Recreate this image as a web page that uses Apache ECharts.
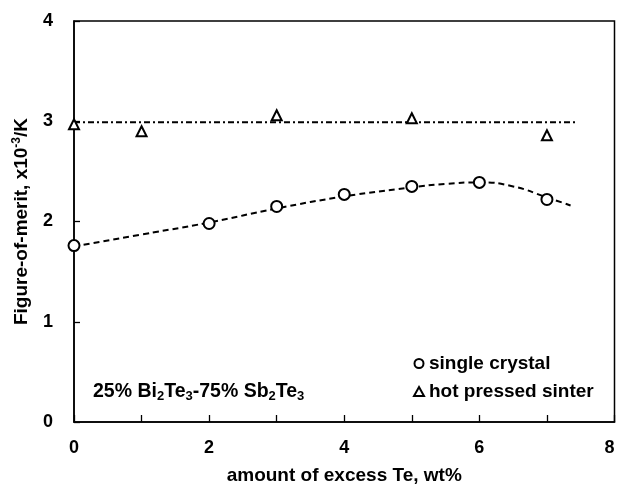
<!DOCTYPE html>
<html><head><meta charset="utf-8">
<script src="https://cdn.jsdelivr.net/npm/echarts@6/dist/echarts.min.js"></script>
<style>html,body{margin:0;padding:0;background:#fff}#c{width:617px;height:493px}</style>
</head><body><div id="c"></div>
<script>
// Data
const crystalX = [0, 2, 3, 4, 5, 6, 7];
const crystalY = [1.76, 1.98, 2.15, 2.27, 2.35, 2.39, 2.22];
const sinterX = [0, 1, 3, 5, 7];
const sinterY = [2.97, 2.90, 3.06, 3.03, 2.86];
const fitX = [0, 1, 2, 3, 4, 5, 5.5, 6, 6.5, 7, 7.35];
const fitY = [1.75, 1.87, 1.99, 2.13, 2.25, 2.34, 2.375, 2.39, 2.35, 2.24, 2.16];
const sinterLineX = [0, 7.45];
const sinterLineY = [2.99, 2.99];
const xTicks = [0, 2, 4, 6, 8];
const yTicks = [0, 1, 2, 3, 4];

const zip = (a, b) => a.map((v, i) => [v, b[i]]);
const FONT = 'Liberation Sans, Arial, sans-serif';
const chart = echarts.init(document.getElementById('c'));
chart.setOption({
  animation: false,
  backgroundColor: '#fff',
  grid: { left: 74, right: 2.5, top: 21, bottom: 71, outerBoundsMode: 'none', containLabel: false,
    show: true, borderColor: '#000', borderWidth: 1.5, backgroundColor: 'transparent' },
  xAxis: {
    type: 'value', min: 0, max: 8, interval: 1,
    name: 'amount of excess Te, wt%', nameLocation: 'middle', nameGap: 44,
    nameTextStyle: { fontFamily: FONT, fontWeight: 'bold', fontSize: 19, color: '#000' },
    axisLine: { lineStyle: { color: '#000', width: 1.5 } },
    axisTick: { inside: true, length: 7, lineStyle: { color: '#000', width: 1.3 } },
    splitLine: { show: false },
    axisLabel: { margin: 17, fontFamily: FONT, fontWeight: 'bold', fontSize: 18, color: '#000',
      alignMaxLabel: 'right',
      formatter: v => xTicks.includes(v) ? String(v) : '' }
  },
  yAxis: {
    type: 'value', min: 0, max: 4, interval: 1,
    name: 'Figure-of-merit, x10{sup|-3}/K', nameLocation: 'middle', nameGap: 41, nameRotate: 90,
    nameTextStyle: { fontFamily: FONT, fontWeight: 'bold', fontSize: 19, color: '#000',
      rich: { sup: { fontFamily: FONT, fontWeight: 'bold', fontSize: 12, color: '#000', padding: [0, 0, 10, 0] } } },
    axisLine: { lineStyle: { color: '#000', width: 1.5 } },
    axisTick: { inside: true, length: 6, lineStyle: { color: '#000', width: 1.3 } },
    splitLine: { show: false },
    axisLabel: { margin: 21, fontFamily: FONT, fontWeight: 'bold', fontSize: 18, color: '#000',
      formatter: v => yTicks.includes(v) ? String(v) : '' }
  },
  legend: {
    orient: 'vertical', left: 408, top: 349, itemGap: 9, itemWidth: 10, itemHeight: 9,
    textStyle: { fontFamily: FONT, fontWeight: 'bold', fontSize: 19, color: '#000' },
    data: [
      { name: 'single crystal', icon: 'emptyCircle', itemStyle: { color: '#000', borderColor: '#000', borderWidth: 1.5, opacity: 1 } },
      { name: 'hot pressed sinter', icon: 'emptyTriangle', itemStyle: { color: '#000', borderColor: '#000', borderWidth: 1.8, opacity: 1 } }
    ]
  },
  graphic: [{
    type: 'text', left: 93, top: 382,
    style: {
      text: '25% Bi{sub|2}Te{sub|3}-75% Sb{sub|2}Te{sub|3}',
      font: 'bold 19.5px ' + FONT, fill: '#000',
      rich: { sub: { font: 'bold 13px ' + FONT, fill: '#000', padding: [9, 0, 0, 0] } }
    }
  }],
  series: [
    { name: 'fit single', type: 'line', data: zip(fitX, fitY), smooth: 0.5, showSymbol: false, silent: true,
      lineStyle: { color: '#000', width: 2, type: [6, 4] }, z: 2 },
    { name: 'fit sinter', type: 'line', data: zip(sinterLineX, sinterLineY), showSymbol: false, silent: true,
      lineStyle: { color: '#000', width: 2, type: [6, 3, 2, 3] }, z: 2 },
    { name: 'single crystal', type: 'scatter', data: zip(crystalX, crystalY), symbol: 'emptyCircle', symbolSize: 11,
      itemStyle: { color: '#000', borderColor: '#000', borderWidth: 2, opacity: 1 }, z: 3 },
    { name: 'hot pressed sinter', type: 'scatter', data: zip(sinterX, sinterY), symbol: 'emptyTriangle', symbolSize: 10,
      itemStyle: { color: '#000', borderColor: '#000', borderWidth: 2.4, opacity: 1 }, z: 3 }
  ]
});
</script></body></html>
